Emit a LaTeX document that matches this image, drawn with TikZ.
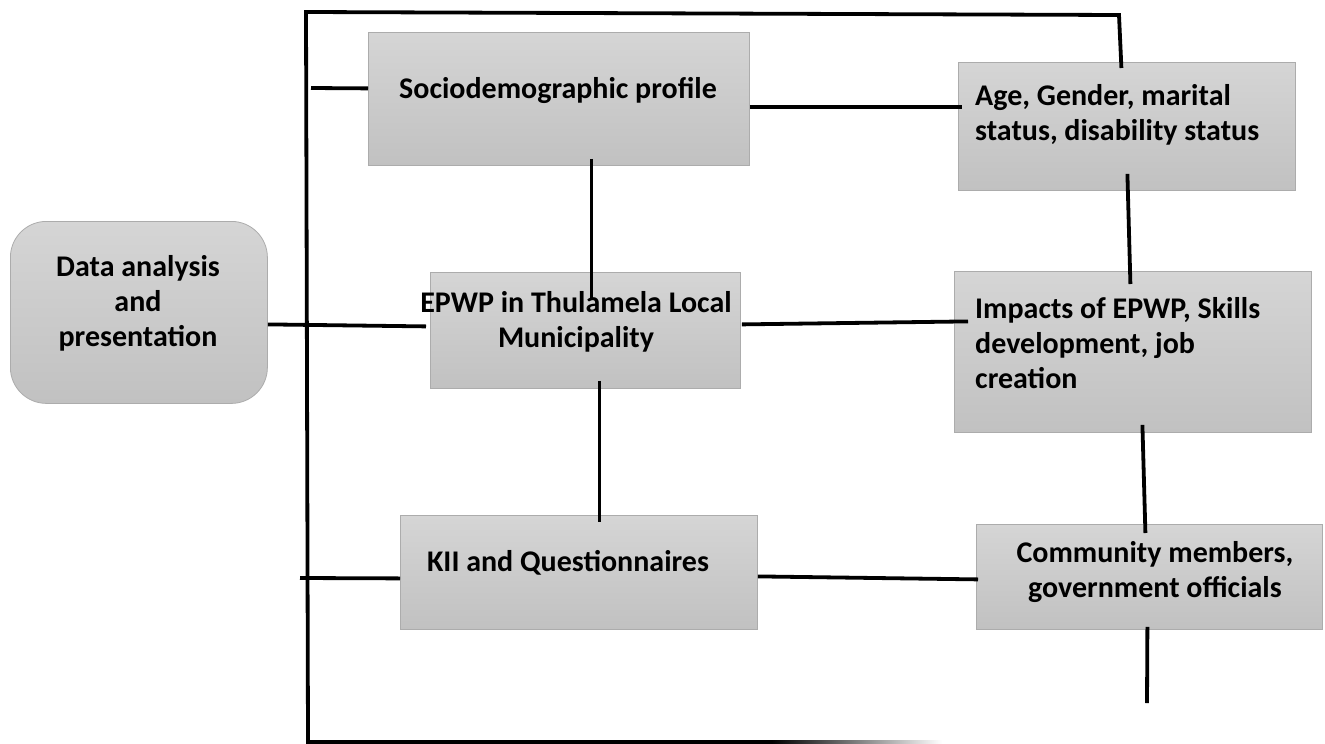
\documentclass[tikz,border=0pt]{standalone}
\usepackage{fontspec}
\setmainfont{Carlito}
\usetikzlibrary{calc}
\definecolor{gtop}{RGB}{213,213,213}
\definecolor{gmid}{RGB}{203,203,203}
\definecolor{gbot}{RGB}{193,193,193}
\definecolor{gedge}{RGB}{172,172,172}
\begin{document}
\begin{tikzpicture}[x=1pt,y=-1pt,
  box/.style={draw=gedge, line width=0.8pt, top color=gtop, middle color=gmid, bottom color=gbot, inner sep=0pt, anchor=north west},
  lbl/.style={font=\fontsize{30}{35}\selectfont\bfseries, align=center, inner sep=0pt},
  conn/.style={line width=3.8pt, black}]
\useasboundingbox (0,0) rectangle (1325,744);
\fill[white] (0,0) rectangle (1325,744);

% boxes
\node[box, minimum width=381pt, minimum height=133pt] (socio) at (368,32) {};
\node[box, minimum width=337pt, minimum height=128pt] (age) at (958,62) {};
\node[box, minimum width=257pt, minimum height=182pt, rounded corners=36pt] (data) at (10,221) {};
\node[box, minimum width=310pt, minimum height=116pt] (epwp) at (430,272) {};
\node[box, minimum width=357pt, minimum height=161pt] (impacts) at (954,271) {};
\node[box, minimum width=357pt, minimum height=114pt] (kii) at (400,515) {};
\node[box, minimum width=346pt, minimum height=105pt] (comm) at (976,524) {};

% texts
\node[lbl] (sociot) at (558,90) {Sociodemographic profile};
\node[lbl, align=left, anchor=west] (aget) at (975,115) {Age, Gender, marital\\status, disability status};
\node[lbl] (datat) at (138,303) {Data analysis\\and\\presentation};
\node[lbl] (epwpt) at (576,322) {EPWP in Thulamela Local\\Municipality};
\node[lbl, align=left, anchor=west] (impt) at (975,343) {Impacts of EPWP, Skills\\development, job\\creation};
\node[lbl] (kiit) at (568,563) {KII and Questionnaires};
\node[lbl] (commt) at (1155,572) {Community members,\\government officials};

% frame coordinates
\coordinate (ftl) at (306,12);
\coordinate (ftr) at (1119,15);
\coordinate (fbl) at (308,742);
\coordinate (fbm) at (772,742);
\coordinate (fbe) at (942,742);
\coordinate (stubA) at (311,88);
\coordinate (stubB) at (300,578);
\coordinate (commEnd) at (1147,703);

% connectors
\draw[conn] ($(age.north)+(-5.5,6)$) -- (ftr) -- (ftl) -- (fbl) -- (fbm);
\shade[left color=black, right color=white] ($(fbm)+(0,-1.9)$) rectangle ($(fbe)+(0,1.9)$);
\draw[conn] (stubA) -- ($(socio.west)+(0,-10.5)$);
\draw[conn] ($(socio.east)+(0,8)$) -- ($(age.west)+(4,-19.5)$);
\draw[conn] ($(socio.south)+(32.5,-7)$) -- ($(epwp.north)+(6,26)$);
\draw[conn] ($(age.south)+(0.5,-17)$) -- ($(impacts.north)+(-2.5,13)$);
\draw[conn] ($(data.east)+(0,12)$) -- ($(epwp.west)+(-4,-4)$);
\draw[conn] ($(epwp.east)+(1,-6)$) -- ($(impacts.west)+(14,-30.5)$);
\draw[conn] ($(epwp.south)+(14,-8)$) -- ($(kii.north)+(20.5,7)$);
\draw[conn] ($(impacts.south)+(9.5,-8)$) -- ($(comm.north)+(-4,9)$);
\draw[conn] (stubB) -- ($(kii.west)+(0,6)$);
\draw[conn] ($(kii.east)+(0,4)$) -- ($(comm.west)+(2,2.5)$);
\draw[conn] ($(comm.south)+(-2,-3)$) -- (commEnd);
\end{tikzpicture}
\end{document}
